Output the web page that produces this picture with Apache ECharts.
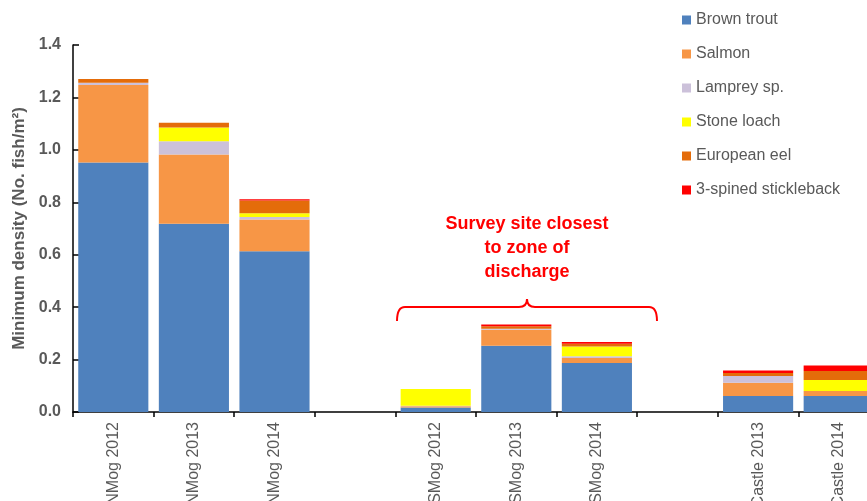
<!DOCTYPE html>
<html>
<head>
<meta charset="utf-8">
<script src="https://cdn.jsdelivr.net/npm/echarts@6/dist/echarts.min.js"></script>
<style>
  html, body { margin: 0; padding: 0; background: #fff; overflow: hidden; }
  #chart { width: 880px; height: 501px; }
</style>
</head>
<body>
<div id="chart"></div>
<script>
// sites (blank slots are the gaps between rivers)
var categories = ["NMog 2012", "NMog 2013", "NMog 2014", "", "SMog 2012", "SMog 2013", "SMog 2014", "", "Castle 2013", "Castle 2014"];

// minimum density, No. fish/m2
var brownTrout  = [0.952, 0.718, 0.613, null, 0.017, 0.253, 0.187, null, 0.061, 0.061];
var salmon      = [0.295, 0.264, 0.121, null, 0.005, 0.061, 0.019, null, 0.051, 0.019];
var lamprey     = [0.009, 0.051, 0.010, null, 0.002, 0.004, 0.007, null, 0.025, 0];
var stoneLoach  = [0, 0.052, 0.014, null, 0.064, 0, 0.037, null, 0, 0.042];
var eel         = [0.014, 0.018, 0.049, null, 0, 0.009, 0.010, null, 0.012, 0.034];
var stickleback = [0, 0, 0.005, null, 0, 0.007, 0.007, null, 0.009, 0.021];

var yTicks = [0, 0.2, 0.4, 0.6, 0.8, 1.0, 1.2, 1.4];

var chart = echarts.init(document.getElementById("chart"));

function stackBar(name, data) {
  return {
    name: name,
    type: "bar",
    stack: "total",
    barCategoryGap: "13%",
    data: data
  };
}

// red curly brace pieces
var braceStyle = { fill: null, stroke: "#FF0000", lineWidth: 2 };
function curve(x1, y1, cx, cy, x2, y2) {
  return { type: "bezierCurve", shape: { x1: x1, y1: y1, cpx1: cx, cpy1: cy, x2: x2, y2: y2 }, style: braceStyle };
}
function seg(x1, y1, x2, y2) {
  return { type: "line", shape: { x1: x1, y1: y1, x2: x2, y2: y2 }, style: braceStyle };
}

var option = {
  animation: false,
  textStyle: { fontFamily: "Liberation Sans" },
  color: ["#4F81BD", "#F79646", "#CCC1DA", "#FFFF00", "#E46C0A", "#FF0000"],
  legend: {
    orient: "vertical",
    left: 682,
    top: 12,
    padding: 0,
    itemWidth: 9,
    itemHeight: 9,
    itemGap: 18,
    icon: "rect",
    textStyle: { color: "#595959", fontSize: 16 }
  },
  grid: {
    left: 73,
    right: 1,
    top: 45,
    bottom: 89,
    outerBoundsMode: "none"
  },
  xAxis: {
    type: "category",
    data: categories,
    axisLine: { lineStyle: { color: "#000", width: 1.5 } },
    axisTick: { show: true, length: 5, lineStyle: { color: "#000", width: 1.5 } },
    axisLabel: {
      interval: 0,
      rotate: 90,
      margin: 10,
      color: "#595959",
      fontSize: 16
    }
  },
  yAxis: {
    type: "value",
    min: yTicks[0],
    max: yTicks[yTicks.length - 1],
    interval: 0.2,
    name: "Minimum density (No. fish/m²)",
    nameLocation: "middle",
    nameGap: 41,
    nameTextStyle: { color: "#595959", fontSize: 17, fontWeight: "bold" },
    splitLine: { show: false },
    axisLine: { show: true, lineStyle: { color: "#000", width: 1.5 } },
    axisTick: { show: true, inside: true, length: 6, lineStyle: { color: "#000", width: 1.5 } },
    axisLabel: {
      margin: 12,
      color: "#595959",
      fontSize: 16,
      fontWeight: "bold",
      formatter: function (v) { return v.toFixed(1); }
    }
  },
  series: [
    stackBar("Brown trout", brownTrout),
    stackBar("Salmon", salmon),
    stackBar("Lamprey sp.", lamprey),
    stackBar("Stone loach", stoneLoach),
    stackBar("European eel", eel),
    stackBar("3-spined stickleback", stickleback)
  ],
  // note + brace over the SMog sites
  graphic: [
    {
      type: "text",
      x: 527,
      y: 212,
      style: {
        text: "Survey site closest\nto zone of\ndischarge",
        align: "center",
        fill: "#FF0000",
        font: "bold 18px 'Liberation Sans'",
        lineHeight: 24
      }
    },
    curve(397, 321, 397, 307, 405, 307),
    seg(405, 307, 519, 307),
    curve(519, 307, 527, 307, 527, 299),
    curve(527, 299, 527, 307, 535, 307),
    seg(535, 307, 649, 307),
    curve(649, 307, 657, 307, 657, 321)
  ]
};

chart.setOption(option);
</script>
</body>
</html>
